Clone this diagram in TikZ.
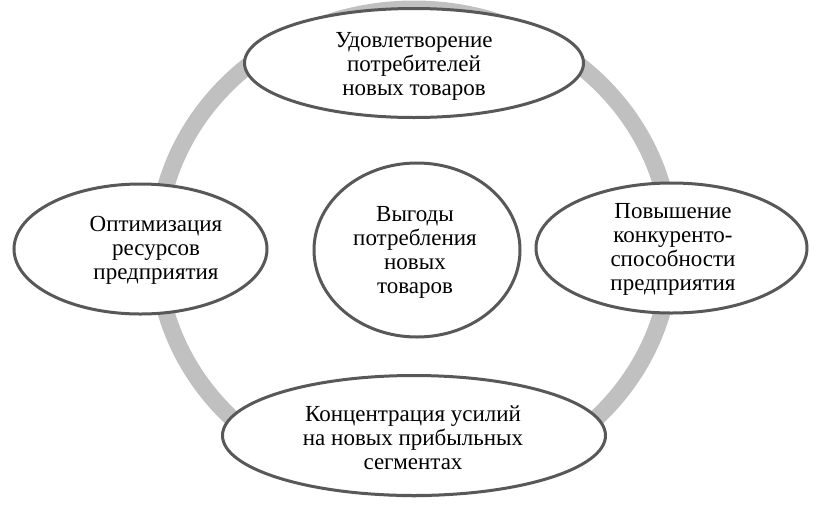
\documentclass[tikz,border=0pt]{standalone}
\usepackage{fontspec}
\setmainfont{Liberation Serif}[Ligatures=TeX]
\newfontfamily\diagfont{Liberation Serif}
\usetikzlibrary{shapes.geometric}
\definecolor{ringgray}{RGB}{192,192,192}
\definecolor{edgegray}{RGB}{88,88,88}
\tikzset{
  ringline/.style={draw=ringgray, line width=17pt},
  bubble/.style={ellipse, draw=edgegray, line width=3pt, fill=white, inner sep=0pt, outer sep=0pt},
  label/.style={align=center, inner sep=0pt, text=black, font=\diagfont\fontsize{23pt}{24pt}\selectfont}
}
\begin{document}
\begin{tikzpicture}[x=1pt,y=-1pt]
\useasboundingbox (0,0) rectangle (822,512);
\coordinate (ringc) at (414,249);
\draw[ringline] (ringc) ellipse [x radius=257pt, y radius=240pt];
\node[bubble, minimum width=339pt, minimum height=109pt] (topE) at (414,63) {};
\node[bubble, minimum width=253pt, minimum height=130pt] (leftE) at (140.5,249) {};
\node[bubble, minimum width=271pt, minimum height=130pt] (rightE) at (671.5,248) {};
\node[bubble, minimum width=383pt, minimum height=120pt] (botE) at (414,435.5) {};
\node[bubble, minimum width=206pt, minimum height=174pt] (midE) at (417,250) {};
\node[label] (topT) at (414,66) {Удовлетворение\\потребителей\\новых товаров};
\node[label] (leftT) at (156,250) {Оптимизация\\ресурсов\\предприятия};
\node[label] (midT) at (415,252) {Выгоды\\потребления\\новых\\товаров};
\node[label] (rightT) at (673,249) {Повышение\\конкуренто-\\способности\\предприятия};
\node[label] (botT) at (413,438) {Концентрация усилий\\на новых прибыльных\\сегментах};
\end{tikzpicture}
\end{document}
